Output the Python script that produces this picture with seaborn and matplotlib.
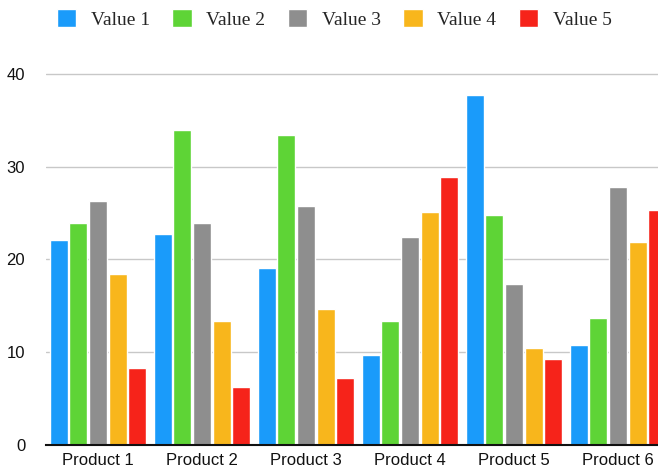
import matplotlib
matplotlib.use("Agg")
import matplotlib.pyplot as plt
import seaborn as sns
import pandas as pd

products = ["Product 1", "Product 2", "Product 3", "Product 4", "Product 5", "Product 6"]
series_names = ["Value 1", "Value 2", "Value 3", "Value 4", "Value 5"]
value1 = [22.1, 22.7, 19.1, 9.7, 37.7, 10.8]
value2 = [23.9, 33.9, 33.4, 13.4, 24.8, 13.7]
value3 = [26.3, 23.9, 25.7, 22.4, 17.4, 27.8]
value4 = [18.4, 13.4, 14.7, 25.1, 10.4, 21.9]
value5 = [8.3, 6.2, 7.2, 28.9, 9.3, 25.3]
colors = ["#1A9BFA", "#5ED436", "#8E8E8E", "#F8B61C", "#F6231A"]
yticks = [0, 10, 20, 30, 40]

rows = []
for name, vals in zip(series_names, [value1, value2, value3, value4, value5]):
    for p, v in zip(products, vals):
        rows.append({"product": p, "series": name, "value": v})
df = pd.DataFrame(rows)

sns.set_style("white")
plt.rcParams["font.family"] = ["Liberation Sans", "DejaVu Sans"]

fig = plt.figure(figsize=(6.58, 4.68), dpi=100)
ax = fig.add_axes([46 / 658, 23 / 468, 624 / 658, 374 / 468])

sns.barplot(data=df, x="product", y="value", hue="series", order=products,
            hue_order=series_names, palette=colors, width=0.94, gap=0.08,
            saturation=1, ax=ax, legend=True)

ax.set_ylim(0, 40.3)
ax.set_xlim(-0.5, 5.5)
ax.set_yticks(yticks)
ax.set_yticklabels([str(t) for t in yticks])
ax.yaxis.grid(True, color="#C8C8C8", linewidth=1)
ax.set_axisbelow(True)
ax.set_xlabel("")
ax.set_ylabel("")
for s in ["left", "right", "top"]:
    ax.spines[s].set_visible(False)
ax.spines["bottom"].set_color("#111111")
ax.spines["bottom"].set_linewidth(1.5)
ax.tick_params(axis="y", length=0, pad=15, labelsize=12, labelcolor="#111111")
ax.tick_params(axis="x", length=0, pad=6, labelsize=12, labelcolor="#111111")

handles, labels = ax.get_legend_handles_labels()
ax.legend_.remove()
fig.legend(handles, labels, loc="center", bbox_to_anchor=(0.508, 1 - 19 / 468),
           ncol=5, frameon=False, handlelength=1.0, handleheight=1.05,
           handletextpad=0.75, columnspacing=1.15,
           prop={"family": "Liberation Serif", "size": 14})

fig.savefig("out.png", dpi=100)
